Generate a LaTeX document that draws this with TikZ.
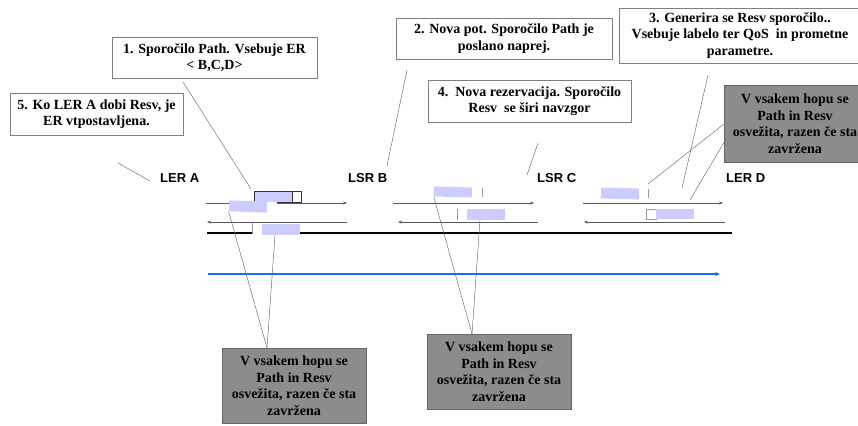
\documentclass[tikz,border=0pt]{standalone}
\usepackage{fontspec}
\setmainfont{Liberation Serif}
\newfontfamily\lblfont{Liberation Sans}
\usetikzlibrary{arrows.meta}

\definecolor{lav}{RGB}{204,204,255}
\definecolor{boxgray}{RGB}{140,140,140}
\definecolor{bluearrow}{RGB}{25,110,245}

\tikzset{
  txt/.style={font=\bfseries\fontsize{14}{16.5}\selectfont, align=center, inner sep=0pt},
  tbox/.style={txt, draw=black!50, line width=0.6pt, fill=white},
  dbox/.style={txt, draw=black!60, line width=0.6pt, fill=boxgray},
  router/.style={font=\lblfont\bfseries\fontsize{13}{15}\selectfont, inner sep=0pt, anchor=west},
  msg/.style={inner sep=0pt, fill=lav, draw=none},
  blank/.style={inner sep=0pt, fill=white, draw=none},
  pathmsg/.style={inner sep=0pt, draw=black!80, line width=0.7pt},
  flow/.style={draw=black!65, line width=0.5pt, -{Stealth[length=4pt,width=3pt]}},
  link/.style={draw=black!60, line width=0.45pt},
  edge/.style={draw=black!40, line width=0.6pt},
  trunk/.style={draw=black, line width=2pt},
  bluepath/.style={draw=bluearrow, line width=1.8pt, -{Stealth[length=5pt,width=4pt]}}
}

\begin{document}
\begin{tikzpicture}[x=1pt,y=-1pt]
\useasboundingbox (0,0) rectangle (858,425);

% ---- router names ----
\node[router] (lerA) at (160,178) {LER A};
\node[router] (lsrB) at (348,178) {LSR B};
\node[router] (lsrC) at (537,178) {LSR C};
\node[router] (lerD) at (726,178) {LER D};

% ---- link end points ----
\coordinate (ab1) at (206,203);  \coordinate (ab2) at (347,203);
\coordinate (bc1) at (393,203);  \coordinate (bc2) at (534,203);
\coordinate (cd1) at (583,203);  \coordinate (cd2) at (723,203);
\coordinate (ba1) at (347,222);  \coordinate (ba2) at (207,222);
\coordinate (cb1) at (538,222);  \coordinate (cb2) at (398,222);
\coordinate (dc1) at (725,222);  \coordinate (dc2) at (584,222);
\coordinate (tr1) at (207,233);  \coordinate (tr2) at (732,233);
\coordinate (bl1) at (208,274);  \coordinate (bl2) at (720,274);

% downstream (Path) and upstream (Resv) hops
\draw[flow] (ab1) -- (ab2);
\draw[flow] (bc1) -- (bc2);
\draw[flow] (cd1) -- (cd2);
\draw[flow] (ba1) -- (ba2);
\draw[flow] (cb1) -- (cb2);
\draw[flow] (dc1) -- (dc2);
\draw[trunk] (tr1) -- (tr2);
\draw[bluepath] (bl1) -- (bl2);

% ---- Path message at LER A ----
\node[pathmsg, fill=lav, minimum width=38pt, minimum height=11pt] (pathA) at (273,196.5) {};
\node[pathmsg, fill=white, minimum width=9pt, minimum height=11pt] (pathAw) at (296.5,196.5) {};

% ---- Resv messages ----
\node[blank, minimum width=10pt, minimum height=10pt] (rA1w) at (272,207) {};
\node[msg, rotate=-2, minimum width=38pt, minimum height=11pt] (rA1) at (248,206.5) {};

\node[blank, minimum width=10pt, minimum height=10pt] (rA2w) at (257,228.5) {};
\draw[edge] (rA2w.north west) -- (rA2w.south west);
\node[msg, minimum width=38pt, minimum height=11pt] (rA2) at (281,229.5) {};

\node[msg, rotate=-1.5, minimum width=38pt, minimum height=10pt] (rB1) at (453,192) {};
\node[blank, minimum width=10pt, minimum height=9pt] (rB1w) at (477,192.5) {};
\draw[edge] (rB1w.north east) -- (rB1w.south east);

\node[blank, minimum width=10pt, minimum height=11pt] (rB2w) at (462,214.5) {};
\draw[edge] (rB2w.north west) -- (rB2w.south west);
\node[msg, minimum width=38pt, minimum height=11pt] (rB2) at (486,214.5) {};

\node[msg, rotate=-1.5, minimum width=38pt, minimum height=11pt] (rC1) at (620,193.5) {};
\node[blank, minimum width=9pt, minimum height=9pt] (rC1w) at (643.5,193.5) {};
\draw[edge] (rC1w.north east) -- (rC1w.south east);

\node[blank, draw=black!40, line width=0.6pt, minimum width=10pt, minimum height=10pt] (rC2w) at (651,214) {};
\node[msg, minimum width=38pt, minimum height=10pt] (rC2) at (675,214) {};

% ---- explanation boxes ----
\node[tbox, minimum width=205pt, minimum height=41pt] (b1) at (214.5,57.5)
  {1. Sporočilo Path. Vsebuje ER\\ < B,C,D>};
\node[tbox, minimum width=216pt, minimum height=41pt] (b2) at (504,38.5)
  {2. Nova pot. Sporočilo Path je\\ poslano naprej.};
\node[tbox, minimum width=242pt, minimum height=55pt] (b3) at (740,35.5)
  {3. Generira se Resv sporočilo..\\ Vsebuje labelo ter QoS\ \ in prometne\\ parametre.};
\node[tbox, minimum width=203pt, minimum height=42pt] (b4) at (529.5,101)
  {4.\ \ Nova rezervacija. Sporočilo\\ Resv\ \ se širi navzgor};
\node[tbox, minimum width=173pt, minimum height=42pt] (b5) at (96.5,114)
  {5. Ko LER A dobi Resv, je\\ ER vtpostavljena.};

\node[dbox, minimum width=144pt, minimum height=75pt] (d1) at (294,385.5)
  {V vsakem hopu se\\ Path in Resv\\ osvežita, razen če sta\\ zavržena};
\node[dbox, minimum width=144pt, minimum height=75pt] (d2) at (499,371.5)
  {V vsakem hopu se\\ Path in Resv\\ osvežita, razen če sta\\ zavržena};
\node[dbox, minimum width=142pt, minimum height=77pt] (d3) at (795,123.5)
  {V vsakem hopu se\\ Path in Resv\\ osvežita, razen če sta\\ zavržena};

% ---- callout lines ----
\coordinate (c1a) at (183,82);   \coordinate (c1b) at (251,189);
\coordinate (c2a) at (407,70);   \coordinate (c2b) at (387,166);
\coordinate (c3a) at (708,75);   \coordinate (c3b) at (682,188);
\coordinate (c4a) at (538,143);  \coordinate (c4b) at (527,175);
\coordinate (c5a) at (118,163);  \coordinate (c5b) at (150,181);
\coordinate (d1top) at (267,348);
\coordinate (d2top) at (472,334);
\coordinate (d3a) at (724,124);  \coordinate (d3b) at (726,139);
\coordinate (d3ea) at (648,184); \coordinate (d3eb) at (690,200);

\draw[link] (c1a) -- (c1b);
\draw[link] (c2a) -- (c2b);
\draw[link] (c3a) -- (c3b);
\draw[link] (c4a) -- (c4b);
\draw[link] (c5a) -- (c5b);
\draw[link] (rA1.south west) -- (d1top);
\draw[link] ([xshift=-6pt]rA2.south) -- (d1top);
\draw[link] (rB1.south west) -- (d2top);
\draw[link] ([xshift=-6pt]rB2.south) -- (d2top);
\draw[link] (d3a) -- (d3ea);
\draw[link] (d3b) -- (d3eb);
\end{tikzpicture}
\end{document}
